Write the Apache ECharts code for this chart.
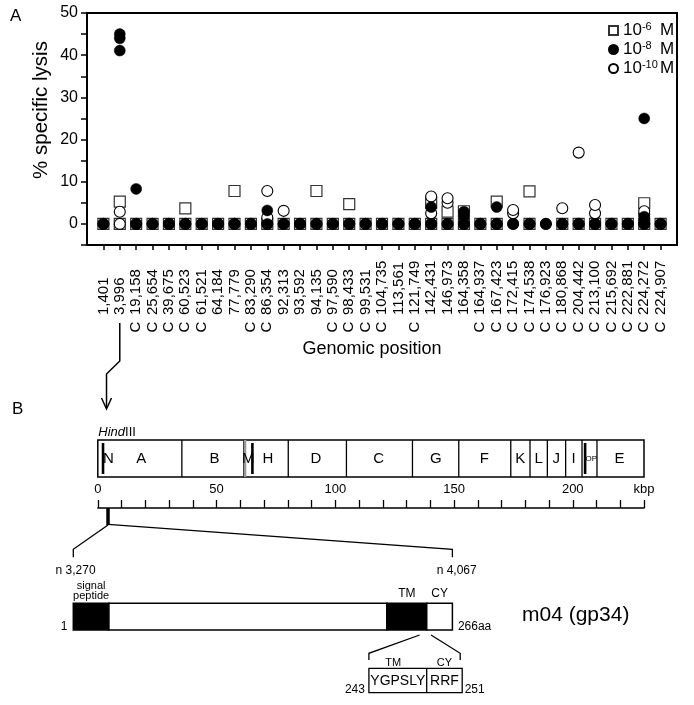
<!DOCTYPE html>
<html><head><meta charset="utf-8">
<script src="https://cdn.jsdelivr.net/npm/echarts@6/dist/echarts.min.js"></script>
<style>html,body{margin:0;padding:0;background:#fff}#c{width:694px;height:705px}</style>
</head><body><div id="c"></div>
<script>
// ---------- Panel A data ----------
const positions = ['1,401','3,996','19,158','25,654','39,675','60,523','61,521','64,184','77,779','83,290','86,354','92,313','93,592','94,135','97,590','98,433','99,531','104,735','113,561','121,749','142,431','146,973','164,358','164,937','167,423','172,415','174,538','176,923','180,868','204,442','213,100','215,692','222,881','224,272','224,907'];
const cMarks = ['','','C','C','C','C','C','','','C','C','','','','C','C','C','C','','C','','','','C','C','C','C','C','C','C','C','C','C','C','C'];
const yTicks = [0,10,20,30,40,50];
// replicate values per position (% specific lysis)
const lysis6 = [[0],[0,5.3],[0],[0],[0],[0,3.7],[0],[0],[0,7.8],[0],[0],[0],[0],[0,7.8],[0],[0,4.7],[0],[0],[0],[0],[0,5.0],[0,2.9],[0,3.0],[0],[0,5.3],[],[0,7.7],[],[0],[0],[0],[0],[0],[0,4.9],[0]];
const lysis8 = [[0],[45.0,44.0,41.1],[0,8.3],[0],[0],[0],[0],[0],[0],[0],[0,3.2],[0],[0],[0],[0],[0],[0],[0],[0],[0],[0,4.0],[0],[0,1.7,2.9],[0],[0,4.0],[0],[0],[0],[0],[0],[0],[0],[0],[0,0.9,1.7,25.0],[0]];
const lysis10 = [[0],[0,2.9],[0],[0],[0],[0],[0],[0],[0],[0],[0,1.5,7.8],[0,3.1],[0],[0],[0],[0],[0],[0],[0],[0],[0,2.5,6.5],[0,5.0,6.1],[0],[0],[0],[0,2.5,3.3],[0],[0],[0,3.7],[0,16.9],[0,2.5,4.5],[0],[0],[0,2.3,3.0],[0]];

// ---------- Panel B data ----------
const hindLabels = ['N','A','B','M','H','D','C','G','F','K','L','J','I','OP','E'];
const hindLabelAt = [4.5,18.3,49.1,63.4,71.6,91.8,118.3,142.3,162.8,177.9,185.6,193.1,200.4,207.8,219.7];
const hindCuts = [35.4,61.5,80.2,104.7,132.5,152.0,173.9,182.0,189.3,197.0,203.9,210.2];
const hindBoldCuts = [2.2,65.1,205.2];
const hindGrayCuts = [62.0];
const genomeKbp = [0,230];
const rulerLabels = [0,50,100,150,200];
const m04Nt = [3.270,4.067];           // kbp
const m04Domains = ['signal peptide','','TM','CY'];
const m04DomStart = [0,25,220,248];
const m04DomEnd = [25,220,248,266];
const m04Dark = ['signal peptide','TM'];
const m04Length = 266;
const insetSeq = ['YGPSLY','RRF'];
const insetRegion = ['TM','CY'];
const insetRange = [243,251];

const FF = 'Liberation Sans, Arial, Helvetica, sans-serif';
const axisCats = [''].concat(positions, ['']);

function toPoints(arr) {
  const out = [];
  arr.forEach((vals, i) => vals.forEach(v => out.push([positions[i], v])));
  return out;
}

const chart = echarts.init(document.getElementById('c'), null, {renderer: 'canvas'});

const option = {
  animation: false,
  backgroundColor: '#fff',
  textStyle: {fontFamily: FF, color: '#000'},
  title: [
    {text: 'A', left: 5, top: 3, textStyle: {fontFamily: FF, fontSize: 17, fontWeight: 'normal', color: '#000'}},
    {text: 'B', left: 7, top: 396, textStyle: {fontFamily: FF, fontSize: 17, fontWeight: 'normal', color: '#000'}}
  ],
  legend: {
    orient: 'vertical', left: 603, top: 16, itemWidth: 9, itemHeight: 9, itemGap: 1,
    data: ['10^-6 M', '10^-8 M', '10^-10 M'],
    formatter: name => { const m = name.match(/10\^(-\d+) M/); return '{b|10}{s|' + m[1] + '}{b|M}'; },
    textStyle: {
      rich: {
        b: {fontFamily: FF, fontSize: 17, color: '#000', lineHeight: 19},
        s: {fontFamily: FF, fontSize: 11, color: '#000', verticalAlign: 'top', width: 18, lineHeight: 11}
      }
    }
  },
  grid: [
    {left: 87, top: 13, width: 590, height: 232, show: true, borderColor: '#000', borderWidth: 2, backgroundColor: 'transparent'},
    {left: 97.8, top: 440, width: 546.2, height: 68},
    {left: 73.3, top: 603.3, width: 379.1, height: 26.7}
  ],
  xAxis: [
    {
      type: 'category', gridIndex: 0, data: axisCats, boundaryGap: false,
      axisLine: {onZero: false, lineStyle: {color: '#000', width: 2}},
      axisTick: {length: 5, lineStyle: {color: '#000', width: 1.5}, interval: (idx) => idx > 0 && idx < axisCats.length - 1},
      axisLabel: {interval: 0, rotate: 90, align: 'left', verticalAlign: 'middle', margin: 70, fontFamily: FF, fontSize: 15, color: '#000'},
      splitLine: {show: false}
    },
    {
      type: 'category', gridIndex: 0, data: axisCats, boundaryGap: false, position: 'bottom',
      axisLine: {show: false, onZero: false}, axisTick: {show: false},
      axisLabel: {interval: 0, rotate: 90, align: 'center', verticalAlign: 'middle', margin: 82, fontFamily: FF, fontSize: 15, color: '#000',
        formatter: (v, idx) => cMarks[idx - 1] || ''},
      name: 'Genomic position', nameLocation: 'middle', nameGap: 95,
      nameTextStyle: {fontFamily: FF, fontSize: 18, color: '#000', padding: [0, 20, 0, 0]},
      splitLine: {show: false}
    },
    {
      type: 'value', gridIndex: 1, min: genomeKbp[0], max: genomeKbp[1], interval: 10, position: 'bottom',
      axisLine: {onZero: false, lineStyle: {color: '#000', width: 1.5}},
      axisTick: {inside: true, length: 8, lineStyle: {color: '#000', width: 1.3}},
      axisLabel: {inside: true, margin: 12, fontFamily: FF, fontSize: 13, color: '#000', showMinLabel: true, showMaxLabel: true,
        formatter: v => rulerLabels.indexOf(v) >= 0 ? String(v) : (v === genomeKbp[1] ? 'kbp' : '')},
      splitLine: {show: false}
    },
    {type: 'value', gridIndex: 2, min: 0, max: m04Length, show: false, axisLine: {onZero: false}}
  ],
  yAxis: [
    {
      type: 'value', gridIndex: 0, min: -5, max: 50, interval: 5,
      axisLine: {show: true, onZero: false, lineStyle: {color: '#000', width: 2}},
      axisTick: {show: true, length: 6, lineStyle: {color: '#000', width: 1.5}},
      axisLabel: {margin: 9, fontFamily: FF, fontSize: 16, color: '#000', formatter: v => yTicks.indexOf(v) >= 0 ? String(v) : ''},
      splitLine: {show: false}
    },
    {type: 'value', gridIndex: 1, min: 0, max: 68, inverse: true, show: false},
    {type: 'value', gridIndex: 2, min: 0, max: 1, inverse: true, show: false}
  ],
  series: [
    {name: '10^-6 M', type: 'scatter', xAxisIndex: 0, yAxisIndex: 0, symbol: 'rect', symbolSize: 11, z: 2,
      itemStyle: {color: '#fff', borderColor: '#333', borderWidth: 1.2, opacity: 1}, data: toPoints(lysis6)},
    {name: '10^-10 M', type: 'scatter', xAxisIndex: 0, yAxisIndex: 0, symbol: 'circle', symbolSize: 11, z: 3,
      itemStyle: {color: '#fff', borderColor: '#000', borderWidth: 1.1, opacity: 1}, data: toPoints(lysis10)},
    {name: '10^-8 M', type: 'scatter', xAxisIndex: 0, yAxisIndex: 0, symbol: 'circle', symbolSize: 11, z: 4,
      itemStyle: {color: '#000', borderColor: '#000', borderWidth: 0.5, opacity: 1}, data: toPoints(lysis8)},
    // HindIII map frame
    {type: 'custom', xAxisIndex: 2, yAxisIndex: 1, clip: false, silent: true,
      data: [[genomeKbp[0], genomeKbp[1]]],
      renderItem: (p, api) => {
        const a = api.coord([api.value(0), 0]), b = api.coord([api.value(1), 37]);
        return {type: 'rect', shape: {x: a[0], y: a[1], width: b[0] - a[0], height: b[1] - a[1]}, style: {fill: 'none', stroke: '#000', lineWidth: 1.5}};
      }},
    {type: 'custom', xAxisIndex: 2, yAxisIndex: 1, clip: false, silent: true,
      data: hindCuts.map(v => [v, 0]),
      renderItem: (p, api) => {
        const a = api.coord([api.value(0), 0]), b = api.coord([api.value(0), 37]);
        return {type: 'line', shape: {x1: a[0], y1: a[1], x2: b[0], y2: b[1]}, style: {stroke: '#000', lineWidth: 1.3}};
      }},
    {type: 'custom', xAxisIndex: 2, yAxisIndex: 1, clip: false, silent: true,
      data: hindGrayCuts.map(v => [v, 0]),
      renderItem: (p, api) => {
        const a = api.coord([api.value(0), 0]), b = api.coord([api.value(0), 37]);
        return {type: 'line', shape: {x1: a[0], y1: a[1], x2: b[0], y2: b[1]}, style: {stroke: '#999', lineWidth: 2.5}};
      }},
    {type: 'custom', xAxisIndex: 2, yAxisIndex: 1, clip: false, silent: true,
      data: hindBoldCuts.map(v => [v, 0]),
      renderItem: (p, api) => {
        const a = api.coord([api.value(0), 3]), b = api.coord([api.value(0), 34]);
        return {type: 'line', shape: {x1: a[0], y1: a[1], x2: b[0], y2: b[1]}, style: {stroke: '#000', lineWidth: 2.6}};
      }},
    {type: 'custom', xAxisIndex: 2, yAxisIndex: 1, clip: false, silent: true,
      data: hindLabelAt.map(v => [v, 18.5]),
      renderItem: (p, api) => {
        const a = api.coord([api.value(0), api.value(1)]);
        const lab = hindLabels[p.dataIndex];
        return {type: 'text', x: a[0], y: a[1], style: {text: lab, fill: '#000', fontFamily: FF, fontSize: lab === 'OP' ? 8 : 15, align: 'center', verticalAlign: 'middle'}};
      }},
    // m04 protein domains
    {type: 'custom', xAxisIndex: 3, yAxisIndex: 2, clip: false, silent: true,
      data: m04DomStart.map((s, i) => [s, m04DomEnd[i]]),
      renderItem: (p, api) => {
        const a = api.coord([api.value(0), 0]), b = api.coord([api.value(1), 1]);
        const dark = m04Dark.indexOf(m04Domains[p.dataIndex]) >= 0;
        return {type: 'rect', shape: {x: a[0], y: a[1], width: b[0] - a[0], height: b[1] - a[1]},
          style: {fill: dark ? '#000' : '#fff', stroke: '#000', lineWidth: 1.5}};
      }},
    {type: 'custom', xAxisIndex: 3, yAxisIndex: 2, clip: false, silent: true,
      data: m04DomStart.map((s, i) => [(s + m04DomEnd[i]) / 2, 0]),
      renderItem: (p, api) => {
        const name = m04Domains[p.dataIndex];
        if (!name) return null;
        const a = api.coord([api.value(0), 0]);
        const two = name.indexOf(' ') > 0;
        return {type: 'text', x: a[0], y: a[1] - (two ? 3 : 10), style: {text: two ? name.replace(' ', '\n') : name,
          fill: '#000', fontFamily: FF, fontSize: two ? 11 : 12, lineHeight: 9.5, align: 'center', verticalAlign: two ? 'bottom' : 'middle'}};
      }}
  ]
};
chart.setOption(option);

// ---------- annotations derived from the axes ----------
const px = (axis, v) => chart.convertToPixel({xAxisIndex: axis}, v);
const pyR = v => chart.convertToPixel({yAxisIndex: 1}, v);
const xCat = px(0, positions.indexOf('3,996') + 1);
const xBar = px(2, (m04Nt[0] + m04Nt[1]) / 2) + 1.5;
const rulerY = pyR(68);
const xP0 = px(3, 0), xP1 = px(3, m04Length);
const protBot = 630;
const xIa = px(3, insetRange[0]), xIb = px(3, insetRange[1]);
const line = (pts, w) => ({type: 'polyline', shape: {points: pts}, style: {stroke: '#000', lineWidth: w || 1.3, fill: 'none'}, silent: true});
const txt = (x, y, t, o) => ({type: 'text', x: x, y: y, silent: true, style: Object.assign({text: t, fill: '#000', fontFamily: FF, fontSize: 12, align: 'center', verticalAlign: 'middle'}, o || {})});
const insL = 368.9, insR = 462.2, insT = 668.3, insB = 692.7, insMid = 426.7;

chart.setOption({
  graphic: [
    {type: 'text', x: 41, y: 110, rotation: Math.PI / 2, silent: true,
      style: {text: '% specific lysis', fill: '#000', fontFamily: FF, fontSize: 20.5, align: 'center', verticalAlign: 'middle'}},
    line([[xCat, 323], [xCat, 361], [xBar - 1.5, 374], [xBar - 1.5, 408]], 1.5),
    line([[xBar - 6.5, 398], [xBar - 1.5, 409], [xBar + 3.5, 398]], 1.5),
    {type: 'text', x: px(2, 0) + 0.5, y: 432.5, silent: true, style: {text: '{i|Hind}{n|III}', fill: '#000', verticalAlign: 'middle', align: 'left',
      rich: {i: {fontFamily: FF, fontSize: 13, fontStyle: 'italic'}, n: {fontFamily: FF, fontSize: 13}}}},
    line([[xBar, rulerY], [xBar, rulerY + 17]], 3.5),
    line([[xBar, rulerY + 17], [xP0, 549.3], [xP0, 557.3]], 1.3),
    line([[xBar, rulerY + 16.3], [xP1, 549.3], [xP1, 557.3]], 1.3),
    txt(xP0 + 2.3, 570.7, 'n ' + Math.round(m04Nt[0] * 1000).toLocaleString('en-US')),
    txt(xP1 + 4.3, 570.7, 'n ' + Math.round(m04Nt[1] * 1000).toLocaleString('en-US')),
    txt(xP0 - 6, 626.7, '1', {align: 'right'}),
    txt(xP1 + 5.5, 626.5, m04Length + 'aa', {align: 'left'}),
    txt(522, 615.5, 'm04 (gp34)', {align: 'left', fontSize: 21}),
    line([[xIa, protBot + 5], [insL, 653.3], [insL, 660]], 1.3),
    line([[xIb, protBot + 5], [insR - 2, 653.3], [insR - 2, 660]], 1.3),
    {type: 'rect', silent: true, shape: {x: insL, y: insT, width: insR - insL, height: insB - insT}, style: {fill: 'none', stroke: '#000', lineWidth: 1.3}},
    line([[insMid, insT], [insMid, insB]], 1.3),
    txt((insL + insMid) / 2 - 4.5, 662.7, insetRegion[0], {fontSize: 11}),
    txt((insMid + insR) / 2, 662.7, insetRegion[1], {fontSize: 11}),
    txt((insL + insMid) / 2, 681.5, insetSeq[0], {fontSize: 14}),
    txt((insMid + insR) / 2, 681.5, insetSeq[1], {fontSize: 14}),
    txt(insL - 4, 690, String(insetRange[0]), {align: 'right', fontSize: 12}),
    txt(insR + 2.5, 690, String(insetRange[1]), {align: 'left', fontSize: 12})
  ]
});
</script></body></html>
